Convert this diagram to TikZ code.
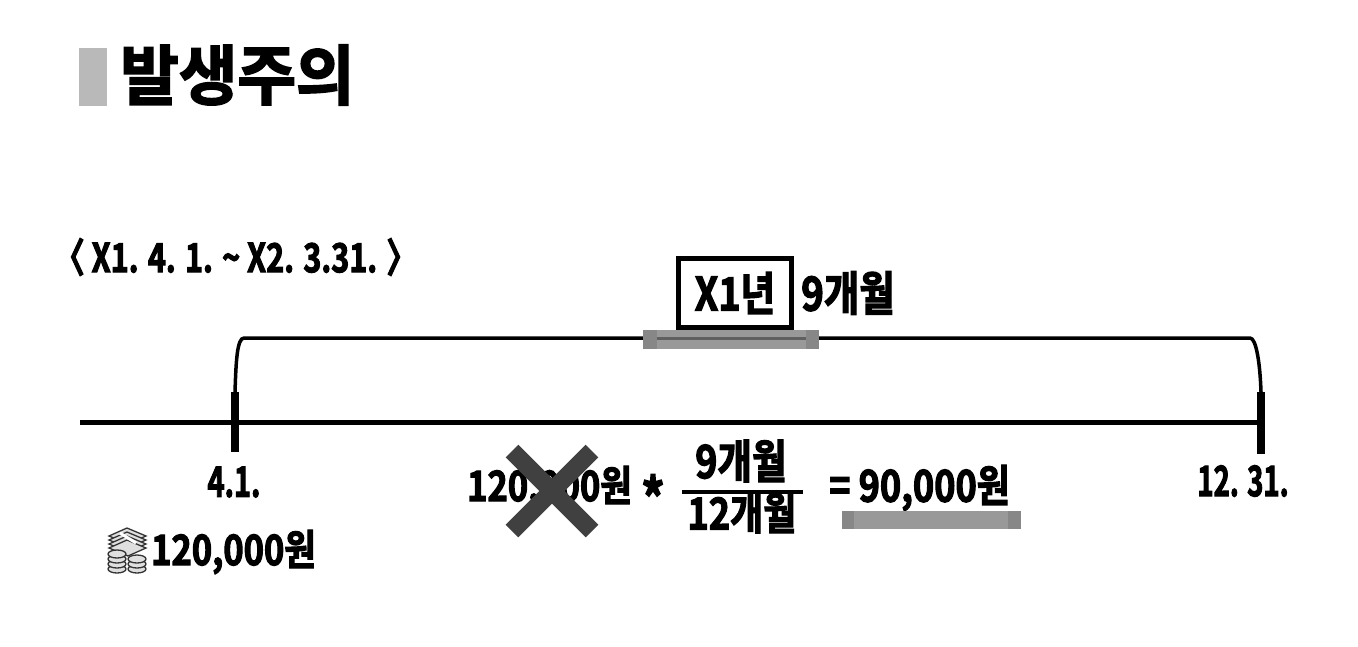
\documentclass[tikz,border=0pt]{standalone}
\usepackage{fontspec}
\newfontfamily\kr[FakeStretch=0.82,FakeBold=2.6]{Noto Sans CJK KR Bold}
\newfontfamily\krtitle[FakeStretch=0.98,FakeBold=2.6]{Noto Sans CJK KR Bold}
\definecolor{barg}{gray}{0.6}
\definecolor{bard}{gray}{0.53}
\definecolor{crossg}{gray}{0.25}
\newcommand{\fs}[1]{\kr\fontsize{#1}{#1}\selectfont}
\tikzset{
 lbl/.style={inner sep=0pt,text=black},
 axis/.style={line width=5pt,black},
 tick/.style={line width=7.5pt,black},
 brace/.style={line width=3.5pt,black},
 bandfill/.style={fill=barg,draw=none},
 bandend/.style={fill=bard,draw=none},
 cross/.style={line width=18pt,crossg},
 iconf/.style={fill=gray!25,draw=gray!40!black,line width=1.3pt}
}
\begin{document}
\begin{tikzpicture}[x=1pt,y=-1pt]
\useasboundingbox (0,0) rectangle (1358,646);
\fill[gray!55] (79,48) rectangle (107,106);
\node[inner sep=0pt,anchor=west,font=\krtitle\fontsize{65}{70}\selectfont] (title) at (120,75) {발생주의};
\node[lbl,anchor=west,font=\fs{40}] (period) at (54,257) {\scalebox{0.93}[1]{〈 X1. 4. 1. \textasciitilde{} X2. 3.31. 〉}};
% axis
\coordinate (al) at (80,422);
\coordinate (ar) at (1262,422);
\draw[axis] (al) -- (ar);
\coordinate (t1a) at (235,392); \coordinate (t1b) at (235,452);
\coordinate (t2a) at (1261,392); \coordinate (t2b) at (1261,454);
\draw[tick] (t1a) -- (t1b);
\draw[tick] (t2a) -- (t2b);
\draw[brace] (t1a) .. controls (236,362) and (237,338) .. (244,338) -- (1250,338) .. controls (1256,338) and (1260,362) .. (t2a);
% highlighted box
\fill[bandfill] (643,330) rectangle (819,349);
\fill[bandend] (643,330) rectangle (657,349);
\fill[bandend] (806,330) rectangle (819,349);
\draw[line width=3pt,gray!75!black] (657,338) -- (806,338);
\node[draw=black,line width=4.5pt,fill=white,minimum width=113pt,minimum height=69pt,inner sep=0pt,font=\fs{46}] (yr) at (735,293) {X1년};
\node[lbl,anchor=west,font=\fs{47}] (m9) at (801,293) {9개월};
% labels
\node[lbl,font=\fs{42}] (d1) at (234,482) {\scalebox{0.84}[1]{4.1.}};
\node[lbl,font=\fs{42}] (d2) at (1243,481) {\scalebox{0.8}[1]{12. 31.}};
% icon
\begin{scope}[shift={(108,534)}]
 \foreach \d in {12,8,4,0}{\draw[iconf] (1,14-\d) -- (19,6-\d) -- (38,14-\d) -- (20,22-\d) -- cycle;}
 \draw[line width=3pt,white] (12,-1) -- (28,9);
 \foreach \xx/\yy in {9/35,9/30,9/25,9/20,29/35,29/30,29/25}{\draw[iconf] (\xx,\yy) ellipse (9 and 4);}
\end{scope}
\node[lbl,anchor=west,font=\fs{42}] (amt) at (151,552) {120,000원};
% formula
\node[lbl,anchor=west,font=\fs{42}] (base) at (467,488) {120,000원};
\coordinate (xa) at (512,451); \coordinate (xb) at (592,531);
\coordinate (xc) at (592,451); \coordinate (xd) at (512,531);
\draw[cross] (xa) -- (xb);
\draw[cross] (xc) -- (xd);
\node[lbl,font=\fs{56}] (star) at (653,497) {*};
\node[lbl,font=\fs{46}] (num) at (741,461) {9개월};
\coordinate (fa) at (682,492); \coordinate (fb) at (803,492);
\draw[line width=3.5pt,black] (fa) -- (fb);
\node[lbl,font=\fs{44}] (den) at (742,513) {12개월};
\node[lbl,anchor=west,font=\fs{44}] (res) at (829,488) {= 90,000원};
\fill[bandfill] (842,511) rectangle (1021,529);
\fill[bandend] (842,511) rectangle (854,529);
\fill[bandend] (1008,511) rectangle (1021,529);
\end{tikzpicture}
\end{document}
